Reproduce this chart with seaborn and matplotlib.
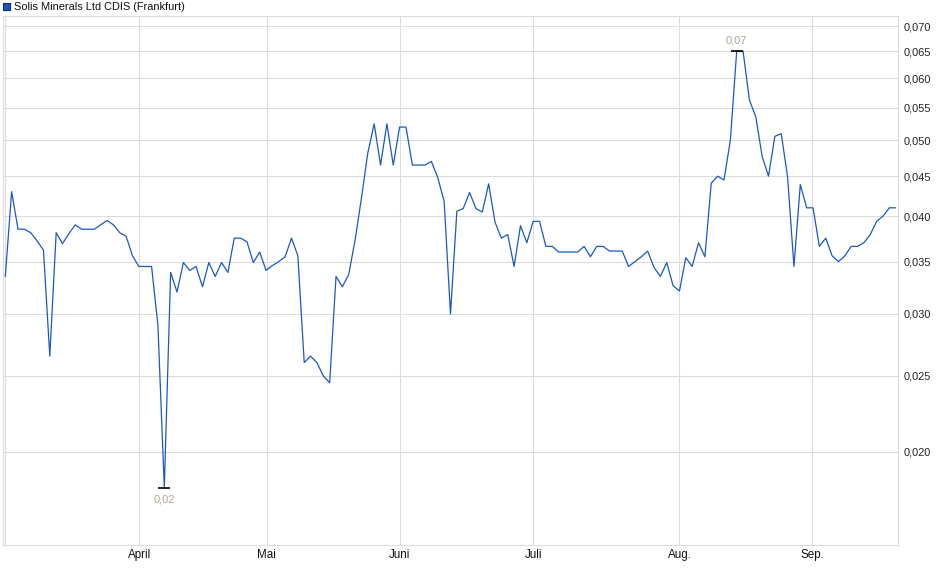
import numpy as np
import matplotlib
matplotlib.use("Agg")
import matplotlib.pyplot as plt
import matplotlib.ticker as mticker
import pandas as pd
import seaborn as sns

# closing prices, one per trading day
prices = [
    0.0335, 0.0430, 0.0385, 0.0385, 0.0381, 0.0372, 0.0362, 0.0265, 0.0381, 0.0369,
    0.0380, 0.0390, 0.0385, 0.0385, 0.0385, 0.0390, 0.0395, 0.0390, 0.0381, 0.0377,
    0.0356, 0.0345, 0.0345, 0.0345, 0.0290, 0.0180, 0.0339, 0.0320, 0.0349, 0.0341,
    0.0345, 0.0325, 0.0349, 0.0335, 0.0349, 0.0339, 0.0375, 0.0375, 0.0371, 0.0349,
    0.0360, 0.0341, 0.0346, 0.0350, 0.0355, 0.0375, 0.0356, 0.0260, 0.0265, 0.0260,
    0.0250, 0.0245, 0.0335, 0.0325, 0.0337, 0.0373, 0.0422, 0.0482, 0.0525, 0.0465,
    0.0525, 0.0465, 0.0520, 0.0520, 0.0465, 0.0465, 0.0465, 0.0470, 0.0448, 0.0418,
    0.0300, 0.0406, 0.0409, 0.0429, 0.0409, 0.0405, 0.0440, 0.0393, 0.0375, 0.0379,
    0.0345, 0.0389, 0.0370, 0.0394, 0.0394, 0.0366, 0.0366, 0.0360, 0.0360, 0.0360,
    0.0360, 0.0366, 0.0355, 0.0366, 0.0366, 0.0361, 0.0361, 0.0361, 0.0345, 0.0350,
    0.0355, 0.0361, 0.0344, 0.0335, 0.0349, 0.0326, 0.0321, 0.0354, 0.0345, 0.0370,
    0.0355, 0.0441, 0.0450, 0.0445, 0.0500, 0.0650, 0.0650, 0.0563, 0.0536, 0.0477,
    0.0450, 0.0506, 0.0510, 0.0449, 0.0345, 0.0439, 0.0410, 0.0410, 0.0366, 0.0375,
    0.0356, 0.0350, 0.0356, 0.0366, 0.0366, 0.0370, 0.0379, 0.0394, 0.0400, 0.0410,
    0.0410,
]
months = ["April", "Mai", "Juni", "Juli", "Aug.", "Sep."]
month_day = [21.1, 41.1, 62.0, 83.0, 106.0, 126.9]  # trading-day index of month start
yticks = [0.020, 0.025, 0.030, 0.035, 0.040, 0.045, 0.050, 0.055, 0.060, 0.065, 0.070]
title = "Solis Minerals Ltd CDIS (Frankfurt)"

df = pd.DataFrame({"day": np.arange(len(prices)), "price": prices})

sns.set_style("white")
plt.rcParams["font.family"] = ["Liberation Sans", "DejaVu Sans"]

fig = plt.figure(figsize=(9.4, 5.79), dpi=100)
ax = fig.add_axes([3 / 940, 34 / 579, 895 / 940, 529 / 579])

grid_c = "#dcdcdc"
line_c = "#1a58c4"

sns.lineplot(data=df, x="day", y="price", ax=ax, color=line_c, lw=0.9)

ax.set_yscale("log")
ax.set_ylim(0.0152, 0.0721)
ax.set_xlim(-0.36, 140.36)

ax.yaxis.tick_right()
ax.set_yticks(yticks)
ax.yaxis.set_minor_locator(mticker.NullLocator())
ax.set_yticklabels([f"{v:.3f}".replace(".", ",") for v in yticks])
ax.tick_params(axis="y", length=0, pad=4, labelsize=7.9, colors="#222222")

ax.set_xticks([0] + month_day)
ax.set_xticklabels([""] + months)
ax.tick_params(axis="x", length=3, width=0.8, color=grid_c, pad=0,
               labelsize=8.4, labelcolor="#111111")

ax.grid(True, color=grid_c, lw=0.8)
ax.set_axisbelow(True)
for s in ax.spines.values():
    s.set_color(grid_c)
    s.set_linewidth(0.8)
ax.set_xlabel("")
ax.set_ylabel("")

# min / max markers
lo = int(np.argmin(prices))
hi = int(np.argmax(prices))
for i, off, va in [(lo, -5, "top"), (hi, 4, "bottom")]:
    ax.plot([i], [prices[i]], marker="_", ms=9, mew=1.2, color="black")
    ax.annotate(f"{prices[i]:.2f}".replace(".", ","), (i, prices[i]),
                xytext=(0, off), textcoords="offset points", ha="center", va=va,
                fontsize=8, color="#b0a696")

# legend-like title
fig.patches.append(plt.Rectangle((3 / 940, 1 - 10 / 579), 7 / 940, 7 / 579,
                                 transform=fig.transFigure, facecolor=line_c,
                                 edgecolor="#10306a", lw=0.8))
fig.text(14 / 940, 1 - 6.5 / 579, title, fontsize=7.9, va="center", ha="left",
         color="#111111")

fig.savefig("out.png", dpi=100)
